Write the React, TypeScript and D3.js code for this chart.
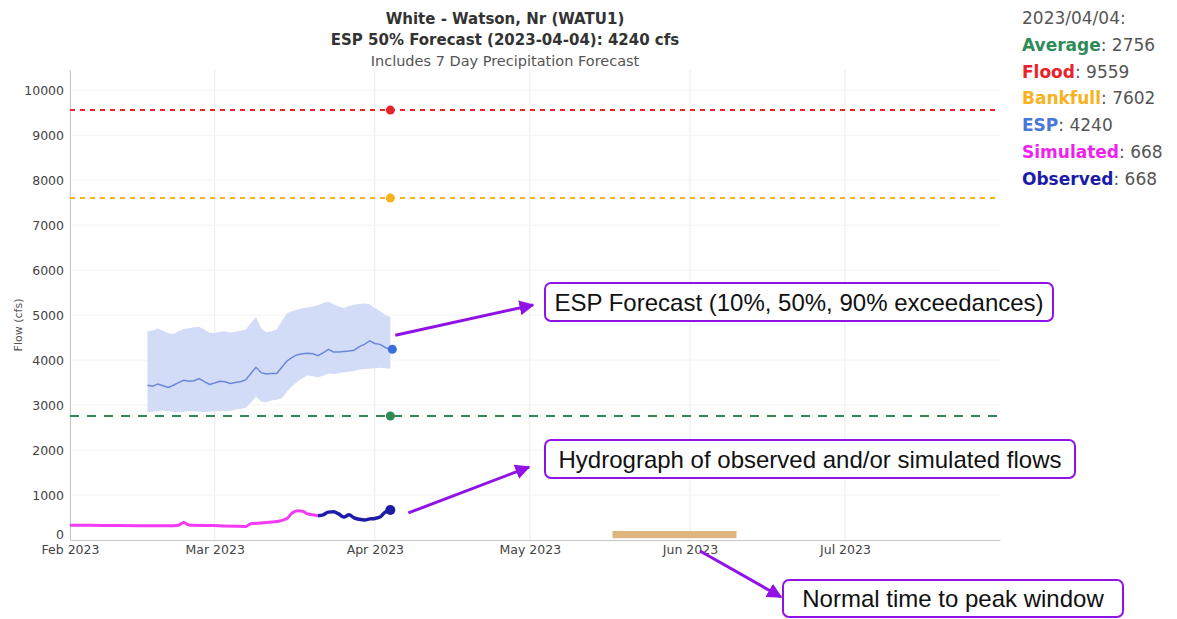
import React, { useEffect, useRef } from "react";
import * as d3 from "d3";

// ---- data ----
const espDates = [
  "2023-02-16", "2023-02-17", "2023-02-18", "2023-02-19", "2023-02-20", "2023-02-21",
  "2023-02-22", "2023-02-23", "2023-02-24", "2023-02-25", "2023-02-26", "2023-02-27",
  "2023-02-28", "2023-03-01", "2023-03-02", "2023-03-03", "2023-03-04", "2023-03-05",
  "2023-03-06", "2023-03-07", "2023-03-08", "2023-03-09", "2023-03-10", "2023-03-11",
  "2023-03-12", "2023-03-13", "2023-03-14", "2023-03-15", "2023-03-16", "2023-03-17",
  "2023-03-18", "2023-03-19", "2023-03-20", "2023-03-21", "2023-03-22", "2023-03-23",
  "2023-03-24", "2023-03-25", "2023-03-26", "2023-03-27", "2023-03-28", "2023-03-29",
  "2023-03-30", "2023-03-31", "2023-04-01", "2023-04-02", "2023-04-03", "2023-04-04",
];
const esp10 = [
  4640, 4660, 4700, 4650, 4600, 4580, 4640, 4690, 4710, 4730, 4740, 4680,
  4610, 4600, 4630, 4640, 4610, 4630, 4650, 4680, 4820, 4960, 4700, 4620,
  4640, 4680, 4870, 5040, 5090, 5120, 5150, 5170, 5190, 5220, 5270, 5300,
  5240, 5190, 5160, 5200, 5230, 5250, 5260, 5240, 5150, 5090, 5000, 4960,
];
const esp50 = [
  3440, 3420, 3470, 3430, 3390, 3440, 3500, 3550, 3530, 3540, 3590, 3520,
  3460, 3490, 3530, 3520, 3480, 3500, 3520, 3560, 3700, 3840, 3720, 3690,
  3700, 3700, 3840, 3980, 4060, 4120, 4140, 4150, 4140, 4100, 4160, 4240,
  4180, 4180, 4190, 4200, 4220, 4300, 4350, 4430, 4370, 4350, 4280, 4240,
];
const esp90 = [
  2840, 2850, 2870, 2880, 2860, 2850, 2840, 2850, 2870, 2860, 2850, 2840,
  2850, 2860, 2870, 2860, 2870, 2900, 2910, 2940, 3050, 3190, 3080, 3060,
  3100, 3120, 3150, 3300, 3420, 3520, 3600, 3660, 3640, 3620, 3650, 3700,
  3690, 3710, 3730, 3740, 3760, 3790, 3800, 3810, 3820, 3830, 3820, 3810,
];

const simDates = [
  "2023-02-01", "2023-02-05", "2023-02-10", "2023-02-15", "2023-02-20", "2023-02-22",
  "2023-02-23", "2023-02-24", "2023-03-01", "2023-03-05", "2023-03-07", "2023-03-08",
  "2023-03-10", "2023-03-13", "2023-03-15", "2023-03-16", "2023-03-17", "2023-03-18",
  "2023-03-19", "2023-03-20", "2023-03-21",
];
const simValues = [
  330, 330, 320, 315, 315, 330, 390, 335, 320, 305, 300, 360,
  380, 410, 480, 600, 650, 640, 580, 560, 540,
];

const obsDates = [
  "2023-03-21", "2023-03-22", "2023-03-23", "2023-03-24", "2023-03-25", "2023-03-26",
  "2023-03-27", "2023-03-28", "2023-03-29", "2023-03-30", "2023-03-31", "2023-04-01",
  "2023-04-02", "2023-04-03", "2023-04-04",
];
const obsValues = [540, 560, 620, 630, 580, 510, 560, 490, 460, 445, 470, 480, 510, 620, 668];

const forecastDate = "2023-04-04";
const levelNames = ["Flood", "Bankfull", "Average"];
const levelValues = [9559, 7602, 2756];
const levelColors = ["#e8232b", "#f7b21e", "#2e8b57"];
const levelDashes = ["5,5", "5,5", "9,8"];

const peakWindow = ["2023-05-17", "2023-06-10"];

const legendDate = "2023/04/04:";
const legendNames = ["Average", "Flood", "Bankfull", "ESP", "Simulated", "Observed"];
const legendValues = [2756, 9559, 7602, 4240, 668, 668];
const legendColors = ["#2e8b57", "#e8232b", "#f7b21e", "#4a78d6", "#ee22ee", "#1c1ca8"];

const titleLines = [
  "White - Watson, Nr (WATU1)",
  "ESP 50% Forecast (2023-04-04): 4240 cfs",
  "Includes 7 Day Precipitation Forecast",
];

const notes = [
  "ESP Forecast (10%, 50%, 90% exceedances)",
  "Hydrograph of observed and/or simulated flows",
  "Normal time to peak window",
];

const W = 1177, H = 619;
const FONT = "DejaVu Sans, sans-serif";
const PURPLE = "#9012e6";

const App = () => {
  const svgRef = useRef<SVGSVGElement>(null);

  useEffect(() => {
    const svg = d3.select(svgRef.current);
    svg.selectAll("*").remove();

    const parse = d3.utcParse("%Y-%m-%d");
    const left = 70, right = 1000, top = 70, bottom = 540;

    const x = d3.scaleUtc()
      .domain([parse("2023-02-01")!, parse("2023-07-31")!])
      .range([left, right]);
    const y = d3.scaleLinear().domain([0, 10450]).range([bottom, top]);

    // gridlines
    const months = x.ticks(d3.utcMonth.every(1)!);
    svg.append("g").selectAll("line").data(months).join("line")
      .attr("x1", d => x(d)).attr("x2", d => x(d))
      .attr("y1", top).attr("y2", bottom)
      .attr("stroke", "#ececf0").attr("stroke-width", 1);
    const yTicks = d3.range(1000, 10001, 1000);
    svg.append("g").selectAll("line").data(yTicks).join("line")
      .attr("x1", left).attr("x2", right)
      .attr("y1", d => y(d)).attr("y2", d => y(d))
      .attr("stroke", "#f3f3f5").attr("stroke-width", 1);

    // axes
    const yAxis = svg.append("g")
      .attr("transform", `translate(${left},0)`)
      .call(d3.axisLeft(y).tickValues(d3.range(0, 10001, 1000)).tickFormat(d3.format("d") as any).tickSize(0).tickPadding(6));
    yAxis.select(".domain").attr("stroke", "#c8c8c8");
    yAxis.selectAll("text").attr("font-family", FONT).attr("font-size", 12.5).attr("fill", "#444");
    yAxis.selectAll(".tick").filter((d: any) => d === 0).select("text").attr("dy", "-0.1em");

    const xAxis = svg.append("g")
      .attr("transform", `translate(0,${bottom})`)
      .call(d3.axisBottom(x).ticks(d3.utcMonth.every(1)!).tickFormat(d3.utcFormat("%b %Y") as any).tickSize(0).tickPadding(5));
    xAxis.select(".domain").attr("stroke", "#c8c8c8");
    xAxis.selectAll("text").attr("font-family", FONT).attr("font-size", 12.5).attr("fill", "#444");

    svg.append("text")
      .attr("transform", `translate(22,${(top + bottom) / 2 + 20}) rotate(-90)`)
      .attr("text-anchor", "middle")
      .attr("font-family", FONT).attr("font-size", 11).attr("fill", "#555")
      .text("Flow (cfs)");

    // threshold lines
    const fd = parse(forecastDate)!;
    levelValues.forEach((v, i) => {
      svg.append("line")
        .attr("x1", left).attr("x2", right - 3)
        .attr("y1", y(v)).attr("y2", y(v))
        .attr("stroke", levelColors[i]).attr("stroke-width", 2)
        .attr("stroke-dasharray", levelDashes[i])
        .attr("data-name", levelNames[i]);
      svg.append("circle").attr("cx", x(fd)).attr("cy", y(v)).attr("r", 4.5).attr("fill", levelColors[i]);
    });

    // ESP band + median
    const esp = espDates.map((d, i) => ({ date: parse(d)!, hi: esp10[i], mid: esp50[i], lo: esp90[i] }));
    svg.append("path").datum(esp)
      .attr("fill", "#d3dcf6").attr("stroke", "none")
      .attr("d", d3.area<any>().x(d => x(d.date)).y0(d => y(d.lo)).y1(d => y(d.hi)));
    svg.append("path").datum(esp)
      .attr("fill", "none").attr("stroke", "#6a88da").attr("stroke-width", 1.5)
      .attr("d", d3.line<any>().x(d => x(d.date)).y(d => y(d.mid)));
    const espLast = esp[esp.length - 1];
    svg.append("circle").attr("cx", x(espLast.date) + 2).attr("cy", y(espLast.mid)).attr("r", 4.5).attr("fill", "#3a6fd8");

    // hydrograph
    const line = d3.line<any>().x(d => x(d.date)).y(d => y(d.v)).curve(d3.curveMonotoneX);
    const sim = simDates.map((d, i) => ({ date: parse(d)!, v: simValues[i] }));
    const obs = obsDates.map((d, i) => ({ date: parse(d)!, v: obsValues[i] }));
    svg.append("path").datum(sim)
      .attr("fill", "none").attr("stroke", "#f53af5").attr("stroke-width", 3)
      .attr("d", line);
    svg.append("path").datum(obs)
      .attr("fill", "none").attr("stroke", "#1c1ca8").attr("stroke-width", 3.5)
      .attr("d", line);
    const obsLast = obs[obs.length - 1];
    svg.append("circle").attr("cx", x(obsLast.date)).attr("cy", y(obsLast.v)).attr("r", 5).attr("fill", "#1c1ca8");

    // normal peak window
    const p0 = parse(peakWindow[0])!, p1 = parse(peakWindow[1])!;
    svg.append("rect")
      .attr("x", x(p0)).attr("width", x(p1) - x(p0))
      .attr("y", y(200)).attr("height", y(40) - y(200))
      .attr("fill", "#deb57e");

    // titles
    titleLines.forEach((t, i) => {
      svg.append("text")
        .attr("x", 505).attr("y", 24 + i * 21)
        .attr("text-anchor", "middle")
        .attr("font-family", FONT)
        .attr("font-size", i < 2 ? 15 : 14.5)
        .attr("font-weight", i < 2 ? "bold" : "normal")
        .attr("fill", i < 2 ? "#333" : "#555")
        .text(t);
    });

    // legend block
    const lg = svg.append("g").attr("font-family", FONT).attr("font-size", 17);
    lg.append("text").attr("x", 1022).attr("y", 24).attr("fill", "#555").text(legendDate);
    legendNames.forEach((n, i) => {
      const t = lg.append("text").attr("x", 1022).attr("y", 51 + i * 26.7);
      t.append("tspan").attr("font-weight", "bold").attr("fill", legendColors[i]).text(n);
      t.append("tspan").attr("fill", "#555").text(`: ${legendValues[i]}`);
    });

    // annotations
    svg.append("defs").append("marker")
      .attr("id", "arrowhead").attr("viewBox", "0 0 10 10")
      .attr("refX", 9).attr("refY", 5)
      .attr("markerWidth", 5).attr("markerHeight", 5)
      .attr("orient", "auto")
      .append("path").attr("d", "M0,0 L10,5 L0,10 Z").attr("fill", PURPLE);

    const boxes = [
      { x: 545, y: 283, w: 508, h: 38 },
      { x: 545, y: 440, w: 530, h: 38 },
      { x: 783, y: 580, w: 340, h: 37 },
    ];
    const starts = [
      [x(espLast.date) + 5, y(espLast.mid) - 14],
      [x(obsLast.date) + 18, y(obsLast.v) + 3],
      [x(parse("2023-06-01")!) + 10, bottom + 11],
    ];
    const ends = [
      [533, 305],
      [529, 467],
      [781, 597],
    ];
    notes.forEach((n, i) => {
      const b = boxes[i];
      svg.append("line")
        .attr("x1", starts[i][0]).attr("y1", starts[i][1])
        .attr("x2", ends[i][0]).attr("y2", ends[i][1])
        .attr("stroke", PURPLE).attr("stroke-width", 3)
        .attr("marker-end", "url(#arrowhead)");
      svg.append("rect")
        .attr("x", b.x).attr("y", b.y).attr("width", b.w).attr("height", b.h)
        .attr("rx", 6).attr("fill", "#fff")
        .attr("stroke", PURPLE).attr("stroke-width", 2);
      svg.append("text")
        .attr("x", b.x + b.w / 2).attr("y", b.y + b.h / 2 + 8.5)
        .attr("text-anchor", "middle")
        .attr("font-family", "Liberation Sans, Arial, sans-serif")
        .attr("font-size", 24)
        .attr("fill", "#111")
        .text(n);
    });
  }, []);

  return (
    <svg
      ref={svgRef}
      width={W}
      height={H}
      style={{ position: "absolute", left: 0, top: 0, background: "#fff", display: "block" }}
    />
  );
};

export default App;
